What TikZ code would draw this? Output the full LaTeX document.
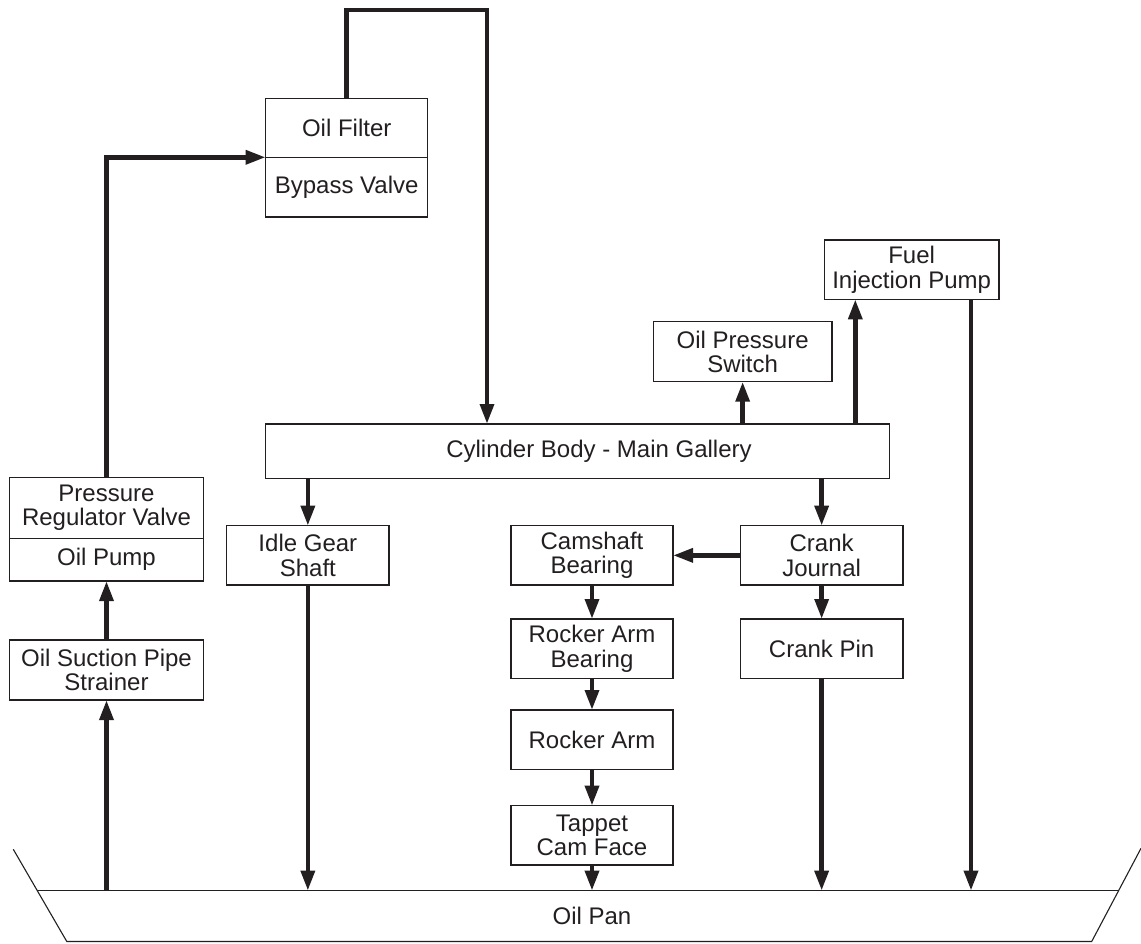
\documentclass[tikz,border=0pt]{standalone}
\usepackage{fontspec}
\setmainfont{Liberation Sans}
\usetikzlibrary{arrows.meta}
\definecolor{ink}{HTML}{231F20}
\begin{document}
\begin{tikzpicture}[x=1pt,y=-1pt,
  box/.style={draw=ink, line width=1.1pt, rectangle, inner sep=0pt, outer sep=0pt, align=center,
    text=ink, font=\fontsize{24pt}{24.3pt}\selectfont},
  arr/.style={draw=ink, line width=4.6pt, -{Triangle[length=20pt,width=13.5pt]}},
  panline/.style={draw=ink, line width=1.1pt}]
\useasboundingbox (0,0) rectangle (1141,943);
% boxes
\node[box, minimum width=162pt, minimum height=58.6pt] (filter) at (346.7,128) {Oil Filter};
\node[box, minimum width=162pt, minimum height=59.7pt] (bypass) at (346.7,187.15) {Bypass Valve};
\node[box, minimum width=194.4pt, minimum height=61pt] (prv) at (106.5,507.8) {Pressure\\Regulator Valve};
\node[box, minimum width=194.4pt, minimum height=42.7pt] (pump) at (106.5,559.65) {Oil Pump};
\node[box, minimum width=194.4pt, minimum height=60pt] (strainer) at (106.5,670) {Oil Suction Pipe\\Strainer};
\node[box, minimum width=623.6pt, minimum height=54.3pt] (cyl) at (577.5,451.15) {};
\node[text=ink, font=\fontsize{24pt}{24.3pt}\selectfont, inner sep=0pt] (cyltext) at (599,451.15) {Cylinder Body - Main Gallery};
\node[box, minimum width=178.7pt, minimum height=60pt] (ops) at (742.65,351.7) {Oil Pressure\\Switch};
\node[box, minimum width=174.7pt, minimum height=59.3pt] (fip) at (911.65,269.65) {Fuel\\Injection Pump};
\node[box, minimum width=162.3pt, minimum height=59.3pt] (idle) at (307.85,555.35) {Idle Gear\\Shaft};
\node[box, minimum width=162pt, minimum height=59.3pt] (cam) at (592,555.35) {Camshaft\\Bearing};
\node[box, minimum width=162pt, minimum height=59.3pt] (rab) at (592,648.65) {Rocker Arm\\Bearing};
\node[box, minimum width=162pt, minimum height=59.3pt] (ra) at (592,739.65) {Rocker Arm};
\node[box, minimum width=162pt, minimum height=59.3pt] (tap) at (592,835.35) {Tappet\\Cam Face};
\node[box, minimum width=162.7pt, minimum height=59.3pt] (cj) at (821.65,555.35) {Crank\\Journal};
\node[box, minimum width=162.7pt, minimum height=59.3pt] (cp) at (821.65,648.65) {Crank Pin};
% oil pan
\node[draw=none, inner sep=0pt, minimum width=1082pt, minimum height=50.8pt, anchor=north] (pan) at (578,890.7) {};
\node[text=ink, font=\fontsize{24pt}{24.3pt}\selectfont, inner sep=0pt] (pantext) at (592,915.5) {Oil Pan};
\draw[panline] (13.3,849.3) -- (66.8,941.5) -- (1091.7,941.5) -- (1141,848.3);
\draw[panline] (37.3,890.7) -- (1118.8,890.7);
% connectors
\coordinate (topR) at (487,10);
\draw[arr] (filter.north) |- (topR) -- (cyl.north -| topR);
\draw[arr] (prv.north) |- (filter.south west);
\draw[arr] (strainer.north) -- (pump.south);
\draw[arr] (pan.north -| strainer.south) -- (strainer.south);
\draw[arr] (cyl.south -| idle.north) -- (idle.north);
\draw[arr] (idle.south) -- (pan.north -| idle.south);
\draw[arr] (cyl.north -| ops.south) -- (ops.south);
\coordinate (fipin) at ([xshift=31pt]fip.south west);
\coordinate (fipout) at ([xshift=146.7pt]fip.south west);
\draw[arr] (cyl.north -| fipin) -- (fipin);
\draw[arr] (fipout) -- (pan.north -| fipout);
\draw[arr] (cyl.south -| cj.north) -- (cj.north);
\draw[arr] (cj.west) -- (cam.east);
\draw[arr] (cj.south) -- (cp.north);
\draw[arr] (cp.south) -- (pan.north -| cp.south);
\draw[arr] (cam.south) -- (rab.north);
\draw[arr] (rab.south) -- (ra.north);
\draw[arr] (ra.south) -- (tap.north);
\draw[arr] (tap.south) -- (pan.north -| tap.south);
\end{tikzpicture}
\end{document}
